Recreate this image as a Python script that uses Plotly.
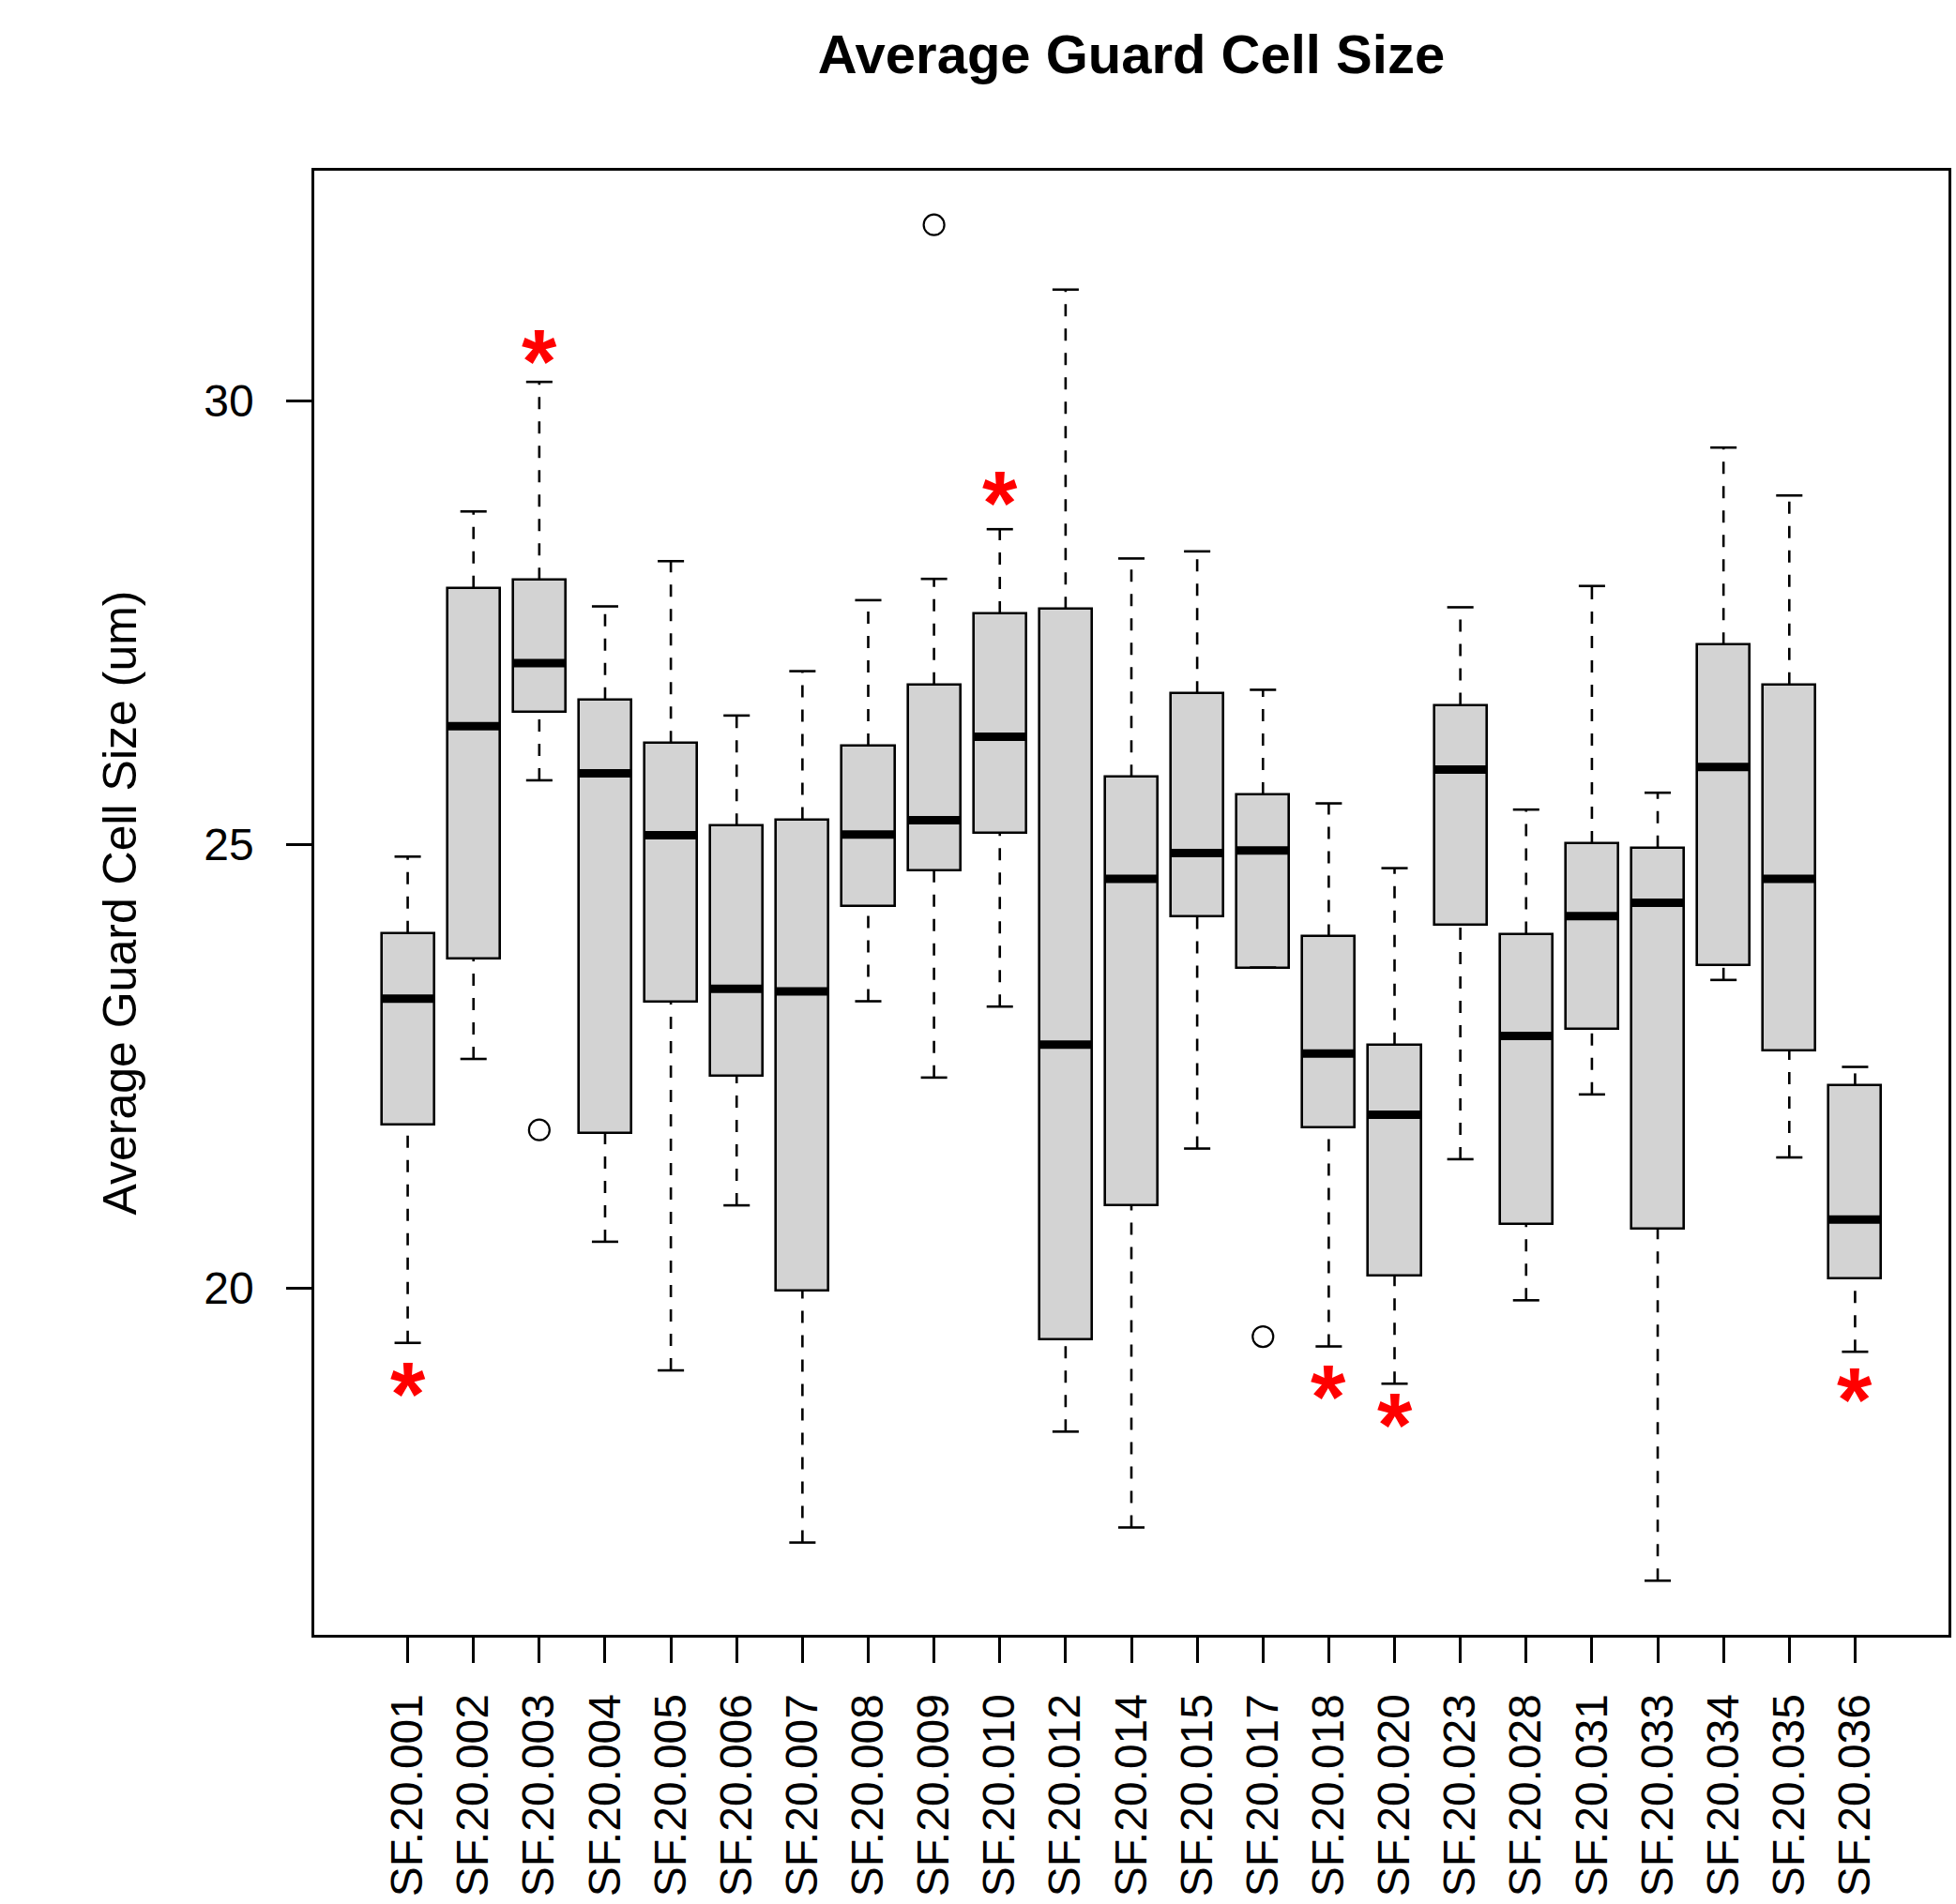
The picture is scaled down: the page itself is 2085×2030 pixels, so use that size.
import plotly.graph_objects as go

categories = ["SF.20.001", "SF.20.002", "SF.20.003", "SF.20.004", "SF.20.005", "SF.20.006",
              "SF.20.007", "SF.20.008", "SF.20.009", "SF.20.010", "SF.20.012", "SF.20.014",
              "SF.20.015", "SF.20.017", "SF.20.018", "SF.20.020", "SF.20.023", "SF.20.028",
              "SF.20.031", "SF.20.033", "SF.20.034", "SF.20.035", "SF.20.036"]
upper_whisker = [24.86, 28.75, 30.21, 27.68, 28.19, 26.45, 26.95, 27.75, 27.99, 28.55, 31.25, 28.22,
                 28.30, 26.74, 25.46, 24.73, 27.67, 25.39, 27.91, 25.58, 29.47, 28.93, 22.49]
q3 = [24.00, 27.89, 27.98, 26.63, 26.14, 25.21, 25.28, 26.11, 26.80, 27.60, 27.65, 25.76,
      26.70, 25.56, 23.96, 22.74, 26.57, 23.99, 25.01, 24.96, 27.25, 26.80, 22.28]
median = [23.26, 26.33, 27.04, 25.80, 25.10, 23.37, 23.34, 25.11, 25.27, 26.21, 22.74, 24.61,
          24.90, 24.93, 22.64, 21.95, 25.84, 22.84, 24.19, 24.34, 25.87, 24.61, 20.77]
q1 = [21.84, 23.71, 26.49, 21.74, 23.23, 22.39, 19.97, 24.30, 24.71, 25.13, 19.42, 20.93,
      24.19, 23.61, 21.81, 20.14, 24.09, 20.72, 22.92, 20.67, 23.64, 22.67, 20.11]
lower_whisker = [19.38, 22.58, 25.72, 20.52, 19.07, 20.93, 17.13, 23.23, 22.37, 23.17, 18.38, 17.30,
                 21.57, 23.61, 19.34, 18.92, 21.45, 19.86, 22.18, 16.70, 23.47, 21.47, 19.28]
outlier_cat = ["SF.20.003", "SF.20.009", "SF.20.017"]
outlier_val = [21.78, 31.98, 19.45]
star_cat = ["SF.20.001", "SF.20.003", "SF.20.010", "SF.20.018", "SF.20.020", "SF.20.036"]
star_val = [18.95, 30.59, 28.99, 18.92, 18.60, 18.89]
y_ticks = [20, 25, 30]

FONT = "Liberation Sans, Arial, sans-serif"
LW = 2.6
BOXW = 0.8
CAPW = 0.4

pos = {c: i + 1 for i, c in enumerate(categories)}
xs = [pos[c] for c in categories]

fig = go.Figure()

# whiskers (dashed)
wx, wy = [], []
for x, lo, a, b, hi in zip(xs, lower_whisker, q1, q3, upper_whisker):
    wx += [x, x, None, x, x, None]
    wy += [b, hi, None, lo, a, None]
fig.add_trace(go.Scatter(x=wx, y=wy, mode="lines", line=dict(color="black", width=LW, dash="13px,13px"),
                         hoverinfo="skip", showlegend=False))
# caps
cx, cy = [], []
for x, lo, hi in zip(xs, lower_whisker, upper_whisker):
    cx += [x - CAPW / 2, x + CAPW / 2, None, x - CAPW / 2, x + CAPW / 2, None]
    cy += [hi, hi, None, lo, lo, None]
fig.add_trace(go.Scatter(x=cx, y=cy, mode="lines", line=dict(color="black", width=LW),
                         hoverinfo="skip", showlegend=False))
# boxes
fig.add_trace(go.Bar(x=xs, y=[b - a for a, b in zip(q1, q3)], base=q1, width=BOXW,
                     marker=dict(color="#d3d3d3", line=dict(color="black", width=LW)),
                     hoverinfo="skip", showlegend=False))
# medians
mx, my = [], []
for x, m in zip(xs, median):
    mx += [x - BOXW / 2, x + BOXW / 2, None]
    my += [m, m, None]
fig.add_trace(go.Scatter(x=mx, y=my, mode="lines", line=dict(color="black", width=9),
                         hoverinfo="skip", showlegend=False))
# outliers
fig.add_trace(go.Scatter(x=[pos[c] for c in outlier_cat], y=outlier_val, mode="markers",
                         marker=dict(symbol="circle-open", size=22, color="black", line=dict(width=2.2)),
                         hoverinfo="skip", showlegend=False))
# red stars
for c, v in zip(star_cat, star_val):
    fig.add_annotation(x=pos[c], y=v, xref="x", yref="y", text="<b>*</b>", showarrow=False,
                       font=dict(family=FONT, size=96, color="red"), yanchor="middle",
                       xanchor="center", yshift=-13)

# y-axis title
fig.add_annotation(x=(127 - 335) / (2077 - 335), y=0.5, xref="paper", yref="paper",
                   text="Average Guard Cell Size (um)",
                   textangle=-90, showarrow=False, font=dict(family=FONT, size=50, color="black"),
                   xanchor="center", yanchor="middle")

fig.update_layout(
    width=2085, height=2030,
    margin=dict(l=335, r=8, t=182, b=287, pad=0, autoexpand=False),
    plot_bgcolor="white", paper_bgcolor="white",
    bargap=0,
    title=dict(text="<b>Average Guard Cell Size</b>", x=(335 + 2077) / 2 / 2085, xanchor="center",
               y=1 - 58 / 2030, yanchor="middle", yref="container",
               font=dict(family=FONT, size=58, color="black")),
    font=dict(family=FONT, size=48, color="black"),
)

fig.update_xaxes(range=[-0.42, 24.42], tickmode="array", tickvals=xs, ticktext=categories,
                 tickangle=-90, ticks="outside", ticklen=27, tickwidth=LW, tickcolor="black",
                 showline=True, linewidth=LW, linecolor="black", mirror=True, showgrid=False,
                 zeroline=False, ticklabelstandoff=14, tickfont=dict(size=48), automargin=False)
fig.update_yaxes(range=[16.09, 32.59], tickmode="array", tickvals=y_ticks, ticktext=[str(t) for t in y_ticks],
                 ticks="outside", ticklen=27, tickwidth=LW, tickcolor="black",
                 showline=True, linewidth=LW, linecolor="black", mirror=True, showgrid=False,
                 zeroline=False, ticklabelstandoff=25, tickfont=dict(size=48), automargin=False)

fig.write_html("out.html", config={"displayModeBar": False},
               post_script="document.body.style.margin='0';")
